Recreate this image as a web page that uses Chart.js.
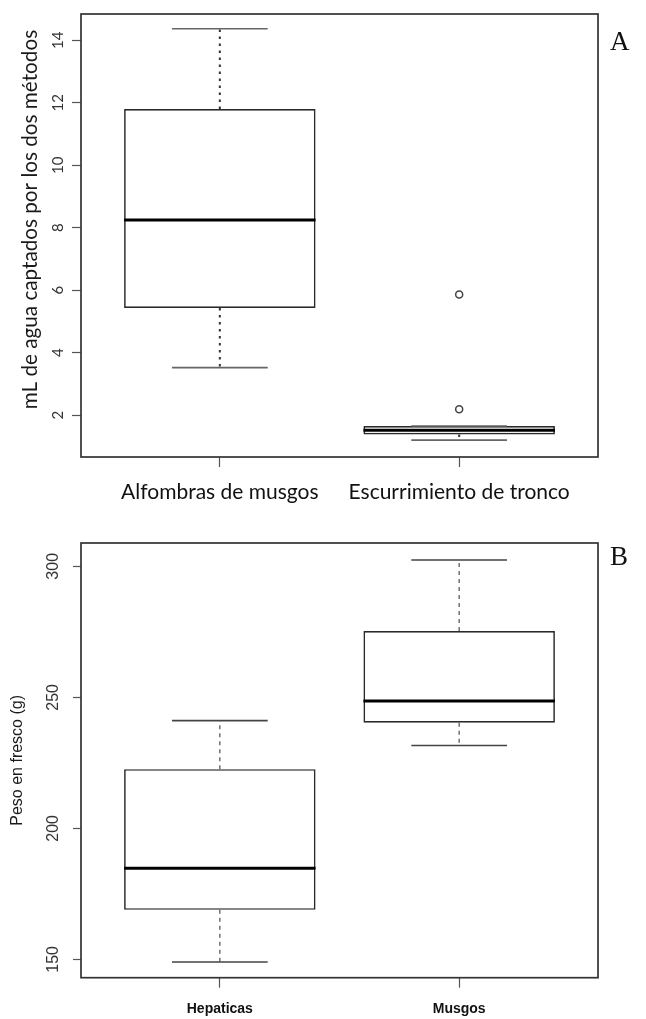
<!DOCTYPE html>
<html><head><meta charset="utf-8">
<script src="https://cdn.jsdelivr.net/npm/chart.js@4/dist/chart.umd.min.js"></script>
<style>
html,body{margin:0;padding:0;background:#fff;}
#wrap{position:relative;width:646px;height:1019px;overflow:hidden;}
canvas{position:absolute;left:0;}
.lab{position:absolute;font-family:"Liberation Serif",serif;font-size:27px;color:#111;line-height:1;}
</style></head>
<body><div id="wrap">
<canvas id="cA" width="646" height="510" style="top:0"></canvas>
<canvas id="cB" width="646" height="509" style="top:510px"></canvas>
<div class="lab" style="left:610px;top:28px">A</div>
<div class="lab" style="left:610px;top:543px">B</div>
</div>
<script>
// ---- Panel A data ----
const categoriesA = ['Alfombras de musgos', 'Escurrimiento de tronco'];
const positionsA = [1, 2];
const whiskerLowA = [3.52, 1.20];
const q1A = [5.43, 1.38];
const medianA = [8.25, 1.52];
const q3A = [11.8, 1.65];
const whiskerHighA = [14.37, 1.65];
const outlierPosA = [2, 2];
const outlierValA = [5.86, 2.19];
const yTicksA = [2, 4, 6, 8, 10, 12, 14];

// ---- Panel B data ----
const categoriesB = ['Hepaticas', 'Musgos'];
const positionsB = [1, 2];
const whiskerLowB = [149, 231.6];
const q1B = [168.9, 240.3];
const medianB = [184.8, 248.6];
const q3B = [222.6, 275.3];
const whiskerHighB = [241.1, 302.4];
const outlierPosB = [];
const outlierValB = [];
const yTicksB = [150, 200, 250, 300];

const boxPlugin = {
  id: 'boxExtras',
  afterDatasetsDraw(chart, args, opts) {
    const ctx = chart.ctx, xs = chart.scales.x, ys = chart.scales.y;
    const meta = chart.getDatasetMeta(0);
    ctx.save();
    opts.pos.forEach((p, i) => {
      const x = xs.getPixelForValue(p);
      const bw = meta.data[i].width;
      const cap = bw / 4;
      ctx.strokeStyle = opts.whiskerColor;
      ctx.lineWidth = opts.whiskerWidth;
      ctx.setLineDash(opts.dash);
      ctx.beginPath();
      ctx.moveTo(x, ys.getPixelForValue(opts.q3[i]));
      ctx.lineTo(x, ys.getPixelForValue(opts.hi[i]));
      ctx.moveTo(x, ys.getPixelForValue(opts.q1[i]));
      ctx.lineTo(x, ys.getPixelForValue(opts.lo[i]));
      ctx.stroke();
      ctx.setLineDash([]);
      ctx.strokeStyle = opts.capColor;
      ctx.lineWidth = 1.6;
      ctx.beginPath();
      ctx.moveTo(x - cap, ys.getPixelForValue(opts.hi[i]));
      ctx.lineTo(x + cap, ys.getPixelForValue(opts.hi[i]));
      ctx.moveTo(x - cap, ys.getPixelForValue(opts.lo[i]));
      ctx.lineTo(x + cap, ys.getPixelForValue(opts.lo[i]));
      ctx.stroke();
      ctx.strokeStyle = '#000';
      ctx.lineWidth = 3;
      ctx.beginPath();
      ctx.moveTo(x - bw / 2, ys.getPixelForValue(opts.med[i]));
      ctx.lineTo(x + bw / 2, ys.getPixelForValue(opts.med[i]));
      ctx.stroke();
    });
    ctx.restore();
  },
  afterDraw(chart) {
    const ctx = chart.ctx, a = chart.chartArea;
    ctx.save();
    ctx.strokeStyle = '#333';
    ctx.lineWidth = 1.7;
    ctx.strokeRect(a.left, a.top, a.right - a.left, a.bottom - a.top);
    ctx.restore();
  }
};

function makeBox(id, cfg) {
  const boxes = cfg.pos.map((p, i) => ({ x: p, y: [cfg.q1[i], cfg.q3[i]] }));
  const outs = cfg.outPos.map((p, i) => ({ x: p, y: cfg.outVal[i] }));
  return new Chart(document.getElementById(id), {
    type: 'bar',
    data: {
      datasets: [
        { type: 'bar', data: boxes, backgroundColor: '#fff', borderColor: '#2a2a2a',
          borderWidth: 1.7, borderSkipped: false, categoryPercentage: 1, barPercentage: 0.8 },
        { type: 'scatter', data: outs, pointStyle: 'circle', pointRadius: 3.5,
          pointBackgroundColor: '#fff', pointBorderColor: '#444', pointBorderWidth: 1.5 }
      ]
    },
    options: {
      responsive: false, animation: false, devicePixelRatio: 1,
      layout: { padding: cfg.padding },
      plugins: { legend: { display: false }, tooltip: { enabled: false },
        boxExtras: { pos: cfg.pos, q1: cfg.q1, q3: cfg.q3, med: cfg.med, lo: cfg.lo, hi: cfg.hi,
                     whiskerColor: cfg.whiskerColor, whiskerWidth: cfg.whiskerWidth, dash: cfg.dash,
                     capColor: cfg.capColor } },
      scales: {
        x: {
          type: 'linear', min: 0.42, max: 2.58, offset: false,
          afterBuildTicks: s => { s.ticks = cfg.pos.map(v => ({ value: v })); },
          afterFit: s => { s.height = cfg.xHeight; },
          border: { display: false },
          grid: { offset: false, drawOnChartArea: false, drawTicks: true, tickLength: 10, color: '#555', tickWidth: 1.2 },
          ticks: { autoSkip: false, maxRotation: 0, minRotation: 0, padding: cfg.xPad, color: cfg.xColor,
                   font: cfg.xFont, callback: v => cfg.cats[cfg.pos.indexOf(v)] }
        },
        y: {
          type: 'linear', min: cfg.yMin, max: cfg.yMax,
          afterBuildTicks: s => { s.ticks = cfg.yTicks.map(v => ({ value: v })); },
          afterFit: s => { s.width = 81; },
          border: { display: false },
          grid: { drawOnChartArea: false, drawTicks: true, tickLength: cfg.yTickLen, color: '#555', tickWidth: 1.2 },
          ticks: { minRotation: 90, maxRotation: 90, crossAlign: 'center', padding: cfg.yPad,
                   color: '#333', font: cfg.yFont },
          title: { display: true, text: cfg.yTitle, color: '#1a1a1a', font: cfg.titleFont,
                   padding: cfg.titlePad }
        }
      }
    },
    plugins: [boxPlugin]
  });
}

makeBox('cA', {
  cats: categoriesA, pos: positionsA, q1: q1A, q3: q3A, med: medianA, lo: whiskerLowA, hi: whiskerHighA,
  outPos: outlierPosA, outVal: outlierValA, yTicks: yTicksA, yMin: 0.66, yMax: 14.84,
  padding: { left: 0, top: 12, right: 48, bottom: 0 }, xHeight: 53,
  xPad: 13, xColor: '#111', xFont: { family: 'Lato', size: 21 },
  yTickLen: 9, yPad: 5, yFont: { family: 'Lato', size: 15 },
  whiskerColor: '#333', whiskerWidth: 2, dash: [2.5, 4.5], capColor: '#666',
  yTitle: '      mL de agua captados por los dos métodos',
  titleFont: { family: 'Lato', size: 20.7 }, titlePad: { top: 18, bottom: 0 }
});

makeBox('cB', {
  cats: categoriesB, pos: positionsB, q1: q1B, q3: q3B, med: medianB, lo: whiskerLowB, hi: whiskerHighB,
  outPos: outlierPosB, outVal: outlierValB, yTicks: yTicksB, yMin: 143, yMax: 308.9,
  padding: { left: 0, top: 33, right: 48, bottom: 0 }, xHeight: 41.3,
  xPad: 13, xColor: '#111', xFont: { family: 'Liberation Sans', size: 14, weight: 'bold' },
  yTickLen: 8, yPad: 6, yFont: { family: 'Liberation Sans', size: 16 },
  whiskerColor: '#666', whiskerWidth: 1.4, dash: [4, 4], capColor: '#444',
  yTitle: 'Peso en fresco (g)',
  titleFont: { family: 'Liberation Sans', size: 16 }, titlePad: { top: 8, bottom: 0 }
});
</script>
</body></html>
